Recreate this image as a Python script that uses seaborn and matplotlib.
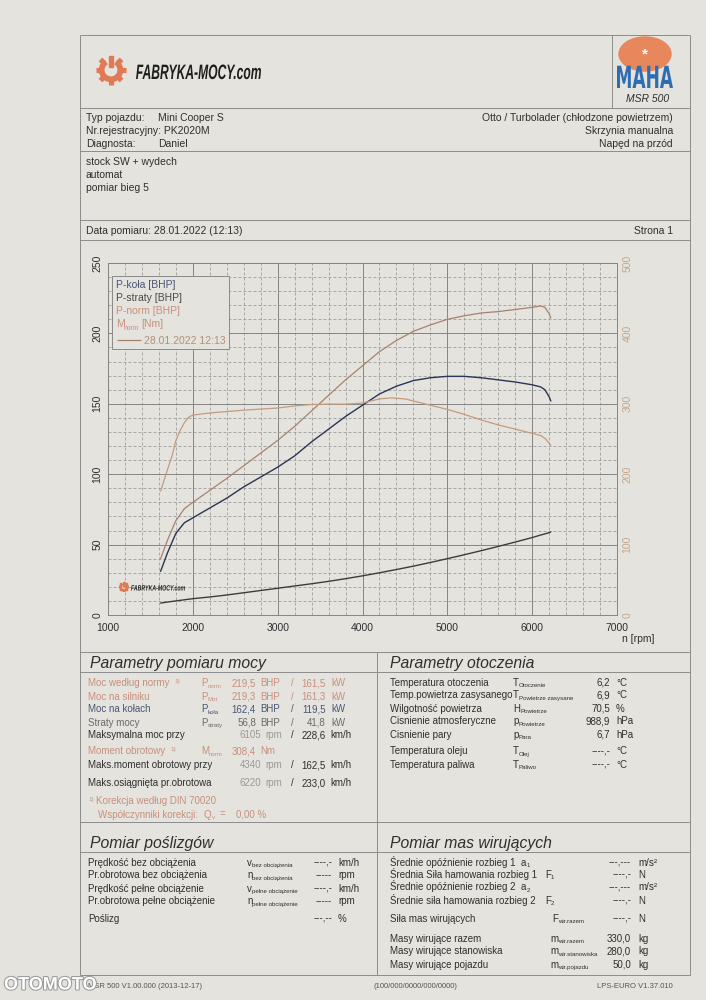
import numpy as np
import pandas as pd
import matplotlib
matplotlib.use("Agg")
import matplotlib.pyplot as plt
import seaborn as sns
from matplotlib import patches
import matplotlib.patheffects as pe
from matplotlib.textpath import TextPath
from matplotlib.font_manager import FontProperties
from matplotlib.transforms import Affine2D

# values
rpm = [1620, 1700, 1800, 1900, 2000, 2200, 2400, 2600, 2800, 3000, 3200, 3400, 3600, 3800,
       4000, 4200, 4400, 4600, 4800, 5000, 5200, 5400, 5600, 5800, 6000, 6100, 6150, 6200, 6220]
p_kola = [31, 44, 58, 65.5, 69, 76, 83, 91, 98, 105, 113, 123, 132, 141,
          149, 157, 162.5, 166.5, 168.5, 169.5, 169.5, 168.5, 167, 165.5, 163.5, 162, 160, 155, 152]
p_straty = [8.5, 9.2, 10, 10.8, 11.6, 12.8, 14.2, 15.8, 17.4, 19, 20.6, 22.2, 23.9, 25.8,
            27.8, 30, 32.3, 34.7, 37.3, 40, 42.8, 45.7, 48.7, 51.8, 55, 56.8, 57.6, 58.5, 59]
p_norm = [40, 53, 67, 75.5, 80, 88.5, 97, 106, 115, 124, 134, 145, 156, 167,
          177, 187, 195, 201.5, 206, 210, 212.5, 214.5, 215.5, 217, 218.5, 219.5, 218.5, 214, 211]
rpm_m = [1620, 1700, 1760, 1800, 1850, 1900, 1950, 2000, 2200, 2400, 2600, 2800, 3000, 3200,
         3400, 3600, 3800, 4000, 4200, 4340, 4500, 4600, 4800, 5000, 5200, 5400, 5600, 5800,
         6000, 6100, 6150, 6200, 6220]
m_norm = [176, 206, 228, 248, 262, 273, 281, 284, 287, 289, 291, 292.5, 294, 297,
          299, 299.5, 299.5, 301, 307, 308.4, 307, 304, 298, 292, 285, 277, 270, 264,
          258, 255, 251, 244, 241]

x_ticks = [1000, 2000, 3000, 4000, 5000, 6000, 7000]
y_ticks = [0, 50, 100, 150, 200, 250]
y2_ticks = [0, 100, 200, 300, 400, 500]

sns.set_theme(style="white")
plt.rcParams['font.family'] = ['Liberation Sans', 'DejaVu Sans']

PAPER = '#e4e3dd'
DARK = '#2f2f2f'
FRAME = '#8c8c8c'
SALMON = '#c98f7d'
BLUE = '#4a5577'
GRAY = '#6a6a6a'
LGRAY = '#9a9a9a'
TAN = '#c8a78a'
ORANGE = '#e07a55'

fig = plt.figure(figsize=(7.06, 10), dpi=100, facecolor=PAPER)

# ---- chart ----
ax = fig.add_axes([108/706, 1-615/1000, 509/706, 352/1000])
ax.set_facecolor('none')
ax.set_xlim(1000, 7000)
ax.set_ylim(0, 250)
ax.set_xticks(x_ticks)
ax.set_yticks(y_ticks)
ax.set_xticks(np.arange(1000, 7001, 200), minor=True)
ax.set_yticks(np.arange(0, 251, 10), minor=True)
ax.grid(which='major', color='#858585', lw=0.7, ls='-')
ax.grid(which='minor', color='#9c9c9c', lw=0.6, ls=(0, (3.5, 2.5)))
ax.set_axisbelow(True)
for s in ax.spines.values():
    s.set_color('#858585')
    s.set_linewidth(0.7)
ax.tick_params(axis='both', which='both', length=0)
ax.tick_params(axis='x', pad=6, labelsize=7.5, labelcolor=DARK)
ax.tick_params(axis='y', pad=4, labelsize=7.5, labelcolor=DARK, labelrotation=90)
for lab in ax.get_yticklabels():
    lab.set_va('center')

sns.lineplot(x=rpm, y=p_straty, ax=ax, color='#3c3c3c', lw=1.0)
sns.lineplot(x=rpm, y=p_kola, ax=ax, color='#2c3455', lw=1.0)
sns.lineplot(x=rpm, y=p_norm, ax=ax, color='#a8826e', lw=0.9)

ax2 = ax.twinx()
ax2.set_ylim(0, 500)
ax2.set_yticks(y2_ticks)
sns.lineplot(x=rpm_m, y=m_norm, ax=ax2, color='#c49b7e', lw=0.9)
ax2.set_xlim(1000, 7000)
ax2.grid(False)
for s in ax2.spines.values():
    s.set_visible(False)
ax2.tick_params(axis='y', length=0, pad=4, labelsize=7.5, labelcolor=TAN, labelrotation=90)
for lab in ax2.get_yticklabels():
    lab.set_va('center')
ax.set_xlabel('')
ax.set_ylabel('')
ax2.set_ylabel('')

# ---- overlay in pixel coordinates ----
ov = fig.add_axes([0, 0, 1, 1], zorder=10)
ov.set_xlim(0, 706)
ov.set_ylim(1000, 0)
ov.axis('off')
ov.patch.set_alpha(0)

# rough glyph widths (em) of Liberation Sans for the symbol letters
GW = {'P': .667, 'T': .611, 'H': .722, 'p': .556, 'M': .833, 'v': .5, 'n': .556,
      'a': .556, 'F': .611, 'm': .833, 'Q': .778}


def line(x0, y0, x1, y1, c=FRAME, lw=0.7):
    ov.plot([x0, x1], [y0, y1], color=c, lw=lw, solid_capstyle='butt')


def txt(x, y, s, fs=7.0, c=DARK, **kw):
    ov.text(x, y + 0.5 * fs, s, fontsize=fs, color=c, va='baseline', **kw)


def sym(x, y, main, sub, c=DARK, fs=7.0, sfs=4.4):
    txt(x, y, main, fs=fs, c=c)
    if sub:
        ov.text(x + GW[main] * fs * 1.389, y + 0.5 * fs + 1.8, sub, fontsize=sfs,
                color=c, va='baseline')


def sup(x, y, s='1)', c=SALMON):
    ov.text(x, y + 0.5, s, fontsize=4.6, color=c, va='baseline')


def stretched(x, y, s, width, cap, color, **fp):
    tp = TextPath((0, 0), s, size=1, prop=FontProperties(**fp))
    ext = tp.get_extents()
    sx = width / ext.width
    sy = cap / 0.72
    tr = Affine2D().translate(-ext.x0, 0).scale(sx, -sy).translate(x, y)
    ov.add_patch(patches.PathPatch(tr.transform_path(tp), color=color, lw=0))


def gear(cx, cy, r, color):
    ov.add_patch(patches.Wedge((cx, cy), r, -55, 235, width=r*0.38, color=color))
    for a in range(0, 360, 45):
        if a == 270:
            continue
        th = np.deg2rad(a)
        ov.plot([cx + r*0.85*np.cos(th), cx + r*1.3*np.cos(th)],
                [cy + r*0.85*np.sin(th), cy + r*1.3*np.sin(th)],
                color=color, lw=r*0.45*0.72, solid_capstyle='butt')
    ov.add_patch(patches.Rectangle((cx - r*0.16, cy - r*1.25), r*0.32, r*0.95, color=color))


# frame
line(80, 35, 690, 35)
line(80, 35, 80, 975)
line(690, 35, 690, 975)
line(612, 35, 612, 108)
for yy in [108, 151, 220, 240, 652, 672, 822, 852, 975]:
    line(80, yy, 690, yy)
line(377, 652, 377, 975)

# logos
gear(111, 70, 11.5, ORANGE)
stretched(136, 79, 'FABRYKA-MOCY.com', 125, 15, '#1e1e1e',
          family='Liberation Sans', weight='bold', style='italic')
ov.add_patch(patches.Ellipse((645, 54), 52, 34, color='#e8865c'))
ov.text(645, 54, '*', fontsize=11, color='white', ha='center', va='center', fontweight='bold')
stretched(617, 88, 'MAHA', 56, 22, '#2f6db3', family='DejaVu Sans', weight='bold')
txt(648, 98, 'MSR 500', fs=7.5, ha='center', fontstyle='italic')

# vehicle header
HF = 7.5
txt(86, 117, 'Typ pojazdu:', fs=HF)
txt(158, 117, 'Mini Cooper S', fs=HF)
txt(86, 130, 'Nr.rejestracyjny: PK2020M', fs=HF)
txt(86, 143, 'Diagnosta:', fs=HF)
txt(158, 143, 'Daniel', fs=HF)
txt(673, 117, 'Otto / Turbolader (chłodzone powietrzem)', fs=HF, ha='right')
txt(673, 130, 'Skrzynia manualna', fs=HF, ha='right')
txt(673, 143, 'Napęd na przód', fs=HF, ha='right')
txt(86, 161, 'stock SW + wydech', fs=HF)
txt(86, 174, 'automat', fs=HF)
txt(86, 187, 'pomiar bieg 5', fs=HF)
txt(86, 230, 'Data pomiaru: 28.01.2022 (12:13)', fs=HF)
txt(673, 230, 'Strona 1', fs=HF, ha='right')

# chart legend + marks
ov.add_patch(patches.Rectangle((112, 276), 117, 73, facecolor=PAPER, edgecolor='#8a8a8a', lw=0.7))
txt(116, 284, 'P-koła [BHP]', fs=7.5, c=BLUE)
txt(116, 297, 'P-straty [BHP]', fs=7.5, c='#4a4a4a')
txt(116, 310, 'P-norm [BHP]', fs=7.5, c=SALMON)
txt(116, 323, 'M', fs=7.5, c=SALMON)
ov.text(124, 329.5, 'norm', fontsize=4.8, color=SALMON, va='baseline')
txt(141, 323, '[Nm]', fs=7.5, c=SALMON)
line(117, 340, 141, 340, c='#a8826e', lw=0.9)
txt(144, 340, '28.01.2022 12:13', fs=7.5, c='#b0907a')
gear(124, 587, 4.2, ORANGE)
stretched(131, 590.5, 'FABRYKA-MOCY.com', 54, 5.5, '#222',
          family='Liberation Sans', weight='bold', style='italic')
txt(638, 638, 'n [rpm]', fs=7.5, ha='center')

# power parameters
txt(90, 662, 'Parametry pomiaru mocy', fs=11.3, fontstyle='italic')
txt(390, 662, 'Parametry otoczenia', fs=11.3, fontstyle='italic')

power_rows = [
    (683, 'Moc według normy', 'P', 'norm', '219,5', '161,5', SALMON),
    (696, 'Moc na silniku', 'P', 'Mot', '219,3', '161,3', SALMON),
    (709, 'Moc na kołach', 'P', 'koła', '162,4', '119,5', BLUE),
    (722, 'Straty mocy', 'P', 'straty', '56,8', '41,8', GRAY),
]
for y, lab, m, s, v1, v2, c in power_rows:
    txt(88, y, lab, c=c)
    sym(201, y, m, s, c=c)
    txt(256, y, v1, c=c, ha='right')
    txt(260, y, 'BHP', c=c)
    txt(292, y, '/', c=c, ha='center')
    txt(326, y, v2, c=c, ha='right')
    txt(331, y, 'kW', c=c)
sup(174, 683)

rpm_rows = [(735, 'Maksymalna moc przy', '6105', '228,6'),
            (765, 'Maks.moment obrotowy przy', '4340', '162,5'),
            (783, 'Maks.osiągnięta pr.obrotowa', '6220', '233,0')]
for y, lab, r, v in rpm_rows:
    txt(88, y, lab)
    txt(261, y, r, c=LGRAY, ha='right')
    txt(265, y, 'rpm', c=LGRAY)
    txt(292, y, '/', ha='center')
    txt(326, y, v, ha='right')
    txt(330, y, 'km/h')

txt(88, 751, 'Moment obrotowy', c=SALMON)
sup(170, 751)
sym(201, 751, 'M', 'norm', c=SALMON)
txt(256, 751, '308,4', c=SALMON, ha='right')
txt(260, 751, 'Nm', c=SALMON)
sup(88, 801)
txt(96, 801, 'Korekcja według DIN 70020', c=SALMON)
txt(98, 814, 'Współczynniki korekcji:', c=SALMON)
sym(204, 814, 'Q', 'v', c=SALMON)
txt(220, 814, '=', c=SALMON)
txt(236, 814, '0,00 %', c=SALMON)

env_rows = [
    (682, 'Temperatura otoczenia', 'T', 'Otoczenie', '6,2', '°C'),
    (695, 'Temp.powietrza zasysanego', 'T', 'Powietrze zasysane', '6,9', '°C'),
    (708, 'Wilgotność powietrza', 'H', 'Powietrze', '70,5', '%'),
    (721, 'Cisnienie atmosferyczne', 'p', 'Powietrze', '988,9', 'hPa'),
    (734, 'Cisnienie pary', 'p', 'Para', '6,7', 'hPa'),
    (751, 'Temperatura oleju', 'T', 'Olej', '----,-', '°C'),
    (764, 'Temperatura paliwa', 'T', 'Paliwo', '----,-', '°C'),
]
for y, lab, m, s, v, u in env_rows:
    txt(390, y, lab)
    sym(513, y, m, s)
    txt(610, y, v, ha='right')
    txt(616, y, u)

# slip / rotating masses
txt(90, 842, 'Pomiar poślizgów', fs=11.3, fontstyle='italic')
txt(390, 842, 'Pomiar mas wirujących', fs=11.3, fontstyle='italic')

slip_rows = [
    (862, 'Prędkość bez obciążenia', 'v', 'bez obciążenia', '----,-', 'km/h'),
    (875, 'Pr.obrotowa bez obciążenia', 'n', 'bez obciążenia', '-----', 'rpm'),
    (888, 'Prędkość pełne obciążenie', 'v', 'pełne obciążenie', '----,-', 'km/h'),
    (901, 'Pr.obrotowa pełne obciążenie', 'n', 'pełne obciążenie', '-----', 'rpm'),
    (918, 'Poślizg', '', '', '---,--', '%'),
]
for y, lab, m, s, v, u in slip_rows:
    txt(88, y, lab)
    if m:
        sym(247, y, m, s)
    txt(332, y, v, ha='right')
    txt(338, y, u)

mass_rows = [
    (862, 'Średnie opóźnienie rozbieg 1', 'a', '1', 521, '---,---', 'm/s²'),
    (874, 'Średnia Siła hamowania rozbieg 1', 'F', '1', 545, '----,-', 'N'),
    (887, 'Średnie opóźnienie rozbieg 2', 'a', '2', 521, '---,---', 'm/s²'),
    (900, 'Średnie siła hamowania rozbieg 2', 'F', '2', 545, '----,-', 'N'),
    (918, 'Siła mas wirujących', 'F', 'wir.razem', 552, '----,-', 'N'),
    (938, 'Masy wirujące razem', 'm', 'wir.razem', 550, '330,0', 'kg'),
    (951, 'Masy wirujące stanowiska', 'm', 'wir.stanowiska', 550, '280,0', 'kg'),
    (964, 'Masy wirujące pojazdu', 'm', 'wir.pojazdu', 550, '50,0', 'kg'),
]
for y, lab, m, s, xs, v, u in mass_rows:
    txt(390, y, lab)
    sym(xs, y, m, s)
    txt(631, y, v, ha='right')
    txt(638, y, u)

# footer
txt(88, 985, 'MSR 500 V1.00.000 (2013-12-17)', fs=5.5, c='#555')
txt(415, 985, '(100/000/0000/000/0000)', fs=5.5, c='#555', ha='center')
txt(673, 985, 'LPS-EURO V1.37.010', fs=5.5, c='#555', ha='right')
ov.text(4, 985, 'OTOMOTO', fontsize=13, fontweight='bold', color='white', va='center',
        path_effects=[pe.withStroke(linewidth=1.5, foreground='#9a9a9a')], zorder=20)

fig.savefig('out.png', dpi=100, facecolor=PAPER)
